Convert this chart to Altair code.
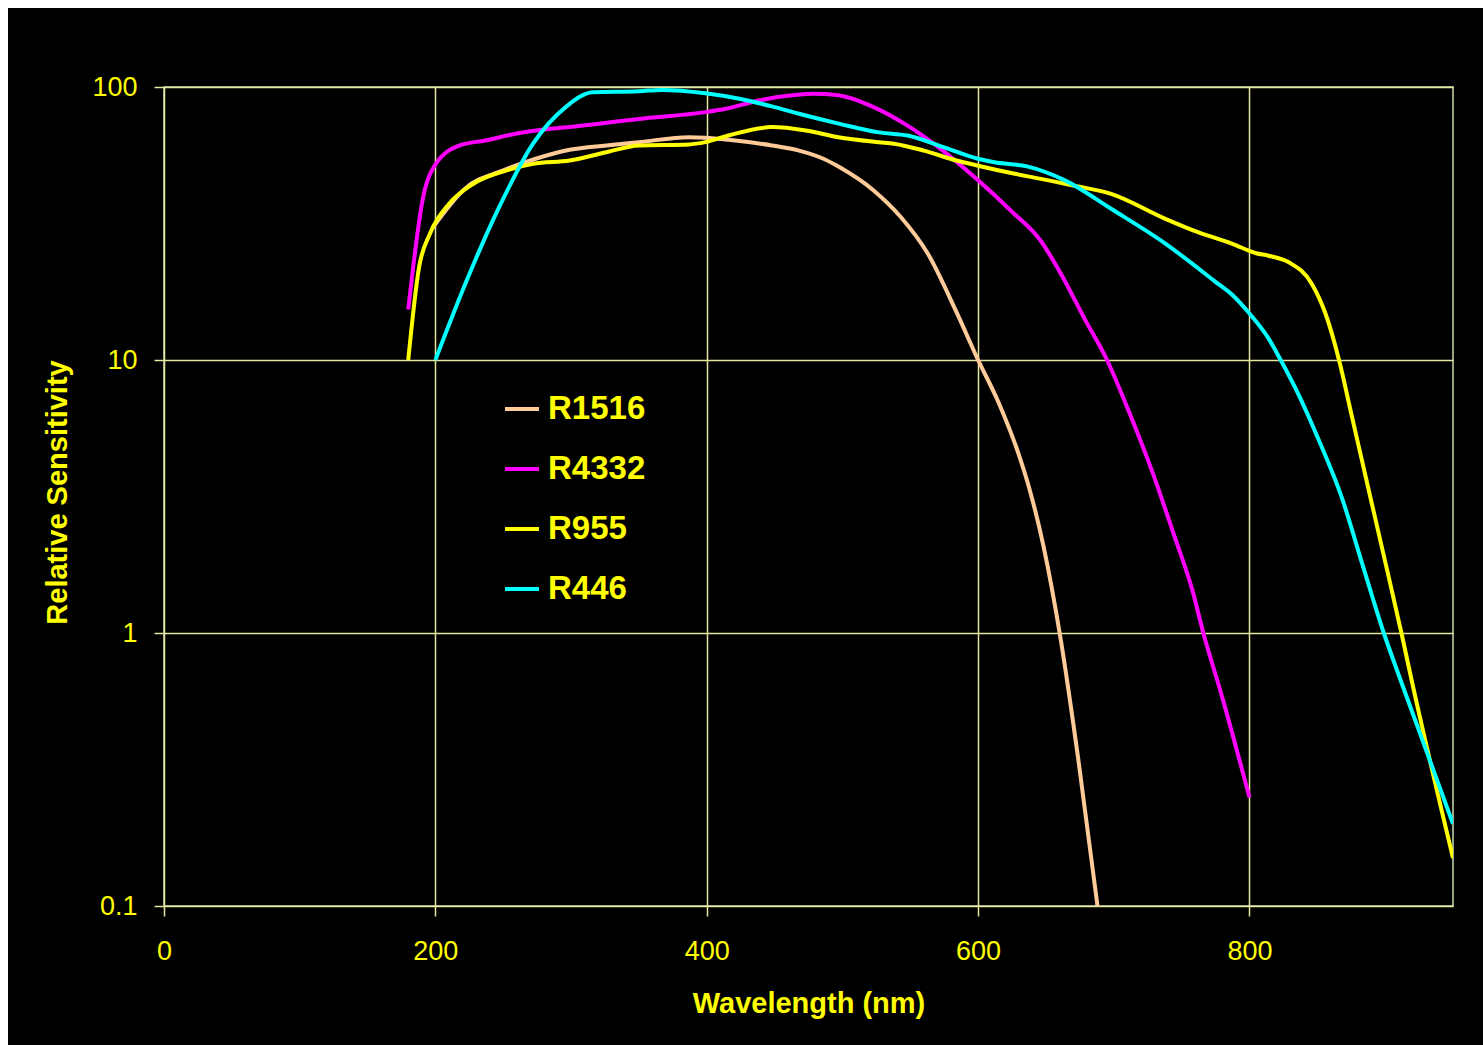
import altair as alt
import pandas as pd

# ---- data ----
series_names = ["R1516", "R4332", "R955", "R446"]
series_colors = ["#FFCC99", "#FF00FF", "#FFFF00", "#00FFFF"]

r1516_nm = [198, 222, 250, 274, 299, 326, 350, 387, 399, 416, 448, 468, 486, 498, 523, 543, 563, 584, 600, 615, 630, 638, 648, 661, 674, 688]
r1516_val = [30.5, 42.5, 49.5, 54.6, 58.9, 61.1, 62.8, 65.5, 65.2, 64.1, 61.1, 58.5, 54.6, 50.8, 41.8, 33.4, 24.5, 15, 10, 7.0, 4.5, 3.35, 2.1, 0.94, 0.34, 0.1]

r4332_nm = [180, 191, 200, 218, 237, 259, 274, 299, 350, 399, 414, 436, 461, 478, 497, 523, 548, 569, 600, 624, 646, 661, 679, 695, 711, 728, 745, 758, 766, 780, 800]
r4332_val = [15.3, 39.5, 52, 61.1, 63.7, 67.4, 69.3, 71.3, 76.4, 80.9, 83.2, 88.7, 93, 94.4, 93.3, 84.4, 72.2, 61.1, 45.5, 35.3, 27.4, 20.7, 14, 10, 6.5, 3.94, 2.24, 1.43, 1.0, 0.58, 0.25]

r955_nm = [180, 188, 196, 210, 228, 252, 272, 299, 326, 350, 387, 399, 416, 448, 473, 497, 527, 538, 560, 584, 600, 627, 652, 670, 698, 738, 762, 787, 805, 814, 829, 846, 856, 866, 875, 888, 899, 912, 919, 950]
r955_val = [10, 21.9, 29, 37.3, 44.2, 49.4, 52.3, 53.8, 57.7, 61.1, 61.6, 62.8, 66.4, 71.3, 69.3, 65.5, 62.8, 62, 58.5, 53.8, 51.5, 48.1, 45.5, 43.6, 40.6, 32.9, 29.4, 26.7, 24.6, 24.1, 22.8, 19, 14.8, 10, 6.37, 3.32, 1.92, 1.0, 0.69, 0.15]

r446_nm = [200, 223, 247, 272, 296, 316, 350, 367, 399, 424, 448, 468, 498, 527, 548, 575, 600, 612, 636, 664, 698, 738, 774, 788, 800, 814, 823, 836, 851, 868, 883, 899, 911, 950]
r446_val = [10, 19.5, 36.3, 62, 84.4, 95.7, 96.5, 97.6, 94.9, 90.6, 84.9, 79.8, 73.3, 68.2, 66.4, 60.1, 54.6, 53, 51.2, 45.5, 35.8, 26.7, 19.5, 17.2, 14.8, 12.0, 10, 7.5, 5.1, 3.14, 1.8, 1.0, 0.68, 0.2]

x_ticks = [0, 200, 400, 600, 800]
y_ticks = [0.1, 1, 10, 100]

# ---- build table ----
rows = []
for name, nms, vals in [("R1516", r1516_nm, r1516_val), ("R4332", r4332_nm, r4332_val),
                        ("R955", r955_nm, r955_val), ("R446", r446_nm, r446_val)]:
    for i, (w, v) in enumerate(zip(nms, vals)):
        rows.append({"series": name, "wavelength": w, "sensitivity": v, "i": i})
df = pd.DataFrame(rows)

FONT = "Liberation Sans"
YEL = "#FFFF00"
GRID = "#e6e6a0"

W, H = 1289, 819
PAD_L, PAD_T, PAD_R, PAD_B = 164, 87, 30, 139

x_enc = alt.X("wavelength:Q",
              scale=alt.Scale(domain=[0, 950], nice=False, zero=False),
              axis=alt.Axis(values=x_ticks, format="d", title="Wavelength (nm)",
                            grid=True, gridColor=GRID, gridWidth=1.5,
                            domain=False, ticks=True, tickSize=10, tickColor=GRID, tickWidth=1.5,
                            labelColor=YEL, labelFont=FONT, labelFontSize=27, labelPadding=22,
                            labelFlush=False,
                            titleColor=YEL, titleFont=FONT, titleFontSize=29, titleFontWeight="bold",
                            titleY=97, titleBaseline="middle"))
y_enc = alt.Y("sensitivity:Q",
              scale=alt.Scale(type="log", domain=[0.1, 100], nice=False),
              axis=alt.Axis(values=y_ticks, format="~g", title="Relative Sensitivity",
                            grid=True, gridColor=GRID, gridWidth=1.5,
                            domain=False, ticks=True, tickSize=10, tickColor=GRID, tickWidth=1.5,
                            labelColor=YEL, labelFont=FONT, labelFontSize=27, labelPadding=17,
                            labelFlush=False,
                            titleColor=YEL, titleFont=FONT, titleFontSize=29, titleFontWeight="bold",
                            titleAngle=270, titleX=-107, titleY=405,
                            titleAlign="center", titleBaseline="middle"))
color_enc = alt.Color("series:N",
                      scale=alt.Scale(domain=series_names, range=series_colors),
                      legend=alt.Legend(title=None, orient="none", legendX=339, legendY=303,
                                        direction="vertical", padding=0,
                                        labelColor=YEL, labelFont=FONT, labelFontSize=33,
                                        labelFontWeight="bold", labelOffset=7,
                                        symbolType="stroke", symbolSize=1156,
                                        symbolStrokeWidth=4, rowPadding=24))

base = alt.Chart(df)
lines = [
    base.transform_filter(alt.datum.series == n)
    .mark_line(strokeWidth=4, interpolate="monotone", clip=True)
    .encode(x=x_enc, y=y_enc, color=color_enc, order="i:Q")
    for n in series_names
]

one = pd.DataFrame({"a": [0]})
white_top = alt.Chart(one).mark_rect(color="white").encode(
    x=alt.value(-PAD_L), x2=alt.value(W + PAD_R), y=alt.value(-PAD_T), y2=alt.value(-PAD_T + 8))
white_left = alt.Chart(one).mark_rect(color="white").encode(
    x=alt.value(-PAD_L), x2=alt.value(-PAD_L + 8), y=alt.value(-PAD_T), y2=alt.value(H + PAD_B))

chart = alt.layer(*lines, white_top, white_left).properties(
    width=W, height=H,
    padding={"left": PAD_L, "top": PAD_T, "right": PAD_R, "bottom": PAD_B},
    autosize=alt.AutoSizeParams(type="none"),
    background="black",
).configure_view(stroke="#c8dcb0", strokeWidth=1.5)

chart.save("out.html", embed_options={"renderer": "svg", "actions": False})
